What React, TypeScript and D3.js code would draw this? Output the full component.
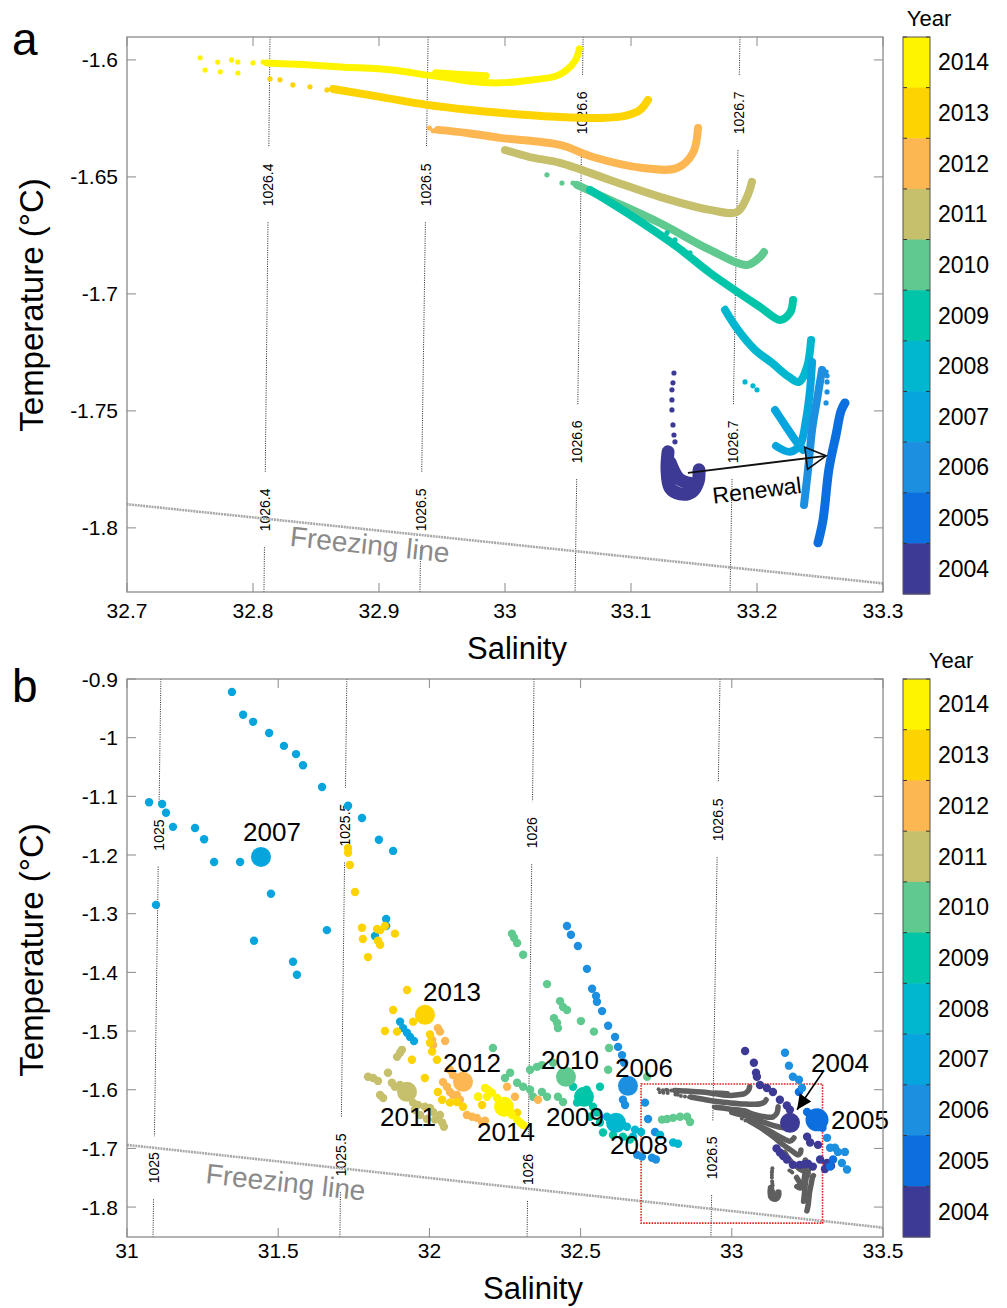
import React from 'react';
import * as d3 from 'd3';

type P = [number, number];

const FONT = '"Liberation Sans", Arial, Helvetica, sans-serif';

const years = [2004, 2005, 2006, 2007, 2008, 2009, 2010, 2011, 2012, 2013, 2014];
const yearColors = ['#3d3a95', '#0b6fe0', '#1d8fe1', '#07a5dd', '#00b7cf', '#00c5a9', '#5fc98f', '#c6bf6c', '#fdb752', '#fdd302', '#fff400'];

// axes ticks
const salTicksA = [32.7, 32.8, 32.9, 33, 33.1, 33.2, 33.3];
const tempTicksA = [-1.6, -1.65, -1.7, -1.75, -1.8];
const salTicksB = [31, 31.5, 32, 32.5, 33, 33.5];
const tempTicksB = [-0.9, -1, -1.1, -1.2, -1.3, -1.4, -1.5, -1.6, -1.7, -1.8];

// freezing line (salinity, temperature)
const freezeSal = [31, 33.5];
const freezeTemp = [-1.694, -1.835];

// isopycnals, panel a
const isoLabelsA = ['1026.4', '1026.5', '1026.6', '1026.7'];
const isoSalTopA = [32.8135, 32.939, 33.062, 33.1865];
const isoSalBotA = [32.8087, 32.9325, 33.0556, 33.1786];
const isoLabTempUpA = [-1.6534, -1.6534, -1.6226, -1.6226];
const isoLabTempLoA = [-1.7923, -1.7923, -1.7632, -1.7632];

// isopycnals, panel b
const isoLabelsB = ['1025', '1025.5', '1026', '1026.5'];
const isoSalTopB = [31.112, 31.727, 32.346, 32.961];
const isoSalBotB = [31.086, 31.704, 32.323, 32.931];
const isoLabTempUpB = [-1.166, -1.149, -1.162, -1.14];
const isoLabTempLoB = [-1.733, -1.711, -1.736, -1.716];

// panel a profiles: dense bands and loose points [S, T]
const a2014Band: P[] = [[32.811, -1.6013], [32.84, -1.602], [32.87, -1.603], [32.911, -1.6043], [32.938, -1.6065], [32.956, -1.6077], [32.97, -1.609], [32.996, -1.6098], [33.022, -1.6085], [33.04, -1.607], [33.049, -1.6043], [33.056, -1.6], [33.059, -1.5952]];
const a2014Band2: P[] = [[32.945, -1.6055], [32.965, -1.6062], [32.985, -1.6068]];
const a2014Dots: P[] = [[32.758, -1.5991], [32.762, -1.6043], [32.772, -1.6009], [32.774, -1.6051], [32.783, -1.6], [32.788, -1.6009], [32.788, -1.6056], [32.8, -1.6013], [32.808, -1.6009]];
const a2013Band: P[] = [[32.8635, -1.6124], [32.9008, -1.6158], [32.9381, -1.6192], [32.9722, -1.6214], [32.996, -1.6226], [33.0437, -1.6244], [33.0754, -1.6248], [33.0952, -1.6239], [33.1071, -1.6214], [33.1135, -1.6171]];
const a2013Dots: P[] = [[32.8135, -1.6081], [32.8214, -1.6085], [32.8317, -1.6107], [32.8452, -1.6115], [32.8587, -1.6128]];
const a2012Band: P[] = [[32.9468, -1.6299], [32.9698, -1.6312], [32.996, -1.6333], [33.0437, -1.6363], [33.0698, -1.6415], [33.1095, -1.6462], [33.1365, -1.6462], [33.1492, -1.6397], [33.1532, -1.6291]];
const a2012Dots: P[] = [[32.94, -1.6291], [32.943, -1.6303]];
const a2011Band: P[] = [[33.0, -1.6385], [33.0198, -1.6415], [33.0437, -1.644], [33.0833, -1.6513], [33.123, -1.6585], [33.1627, -1.6641], [33.1841, -1.665], [33.1921, -1.6585], [33.196, -1.6521]];
const a2010Band: P[] = [[33.0571, -1.6534], [33.0833, -1.6598], [33.123, -1.6697], [33.1627, -1.6812], [33.1921, -1.6876], [33.2024, -1.6842], [33.2056, -1.6821]];
const a2010Dots: P[] = [[33.0333, -1.6491], [33.0452, -1.6526], [33.054, -1.6526]];
const a2009Band: P[] = [[33.0675, -1.6556], [33.0968, -1.6654], [33.1365, -1.6799], [33.1627, -1.691], [33.2024, -1.7056], [33.2183, -1.7111], [33.2262, -1.7081], [33.2286, -1.7026]];
const a2009Dots: P[] = [[33.1286, -1.6739], [33.1349, -1.6769], [33.1413, -1.6812], [33.1468, -1.6825]];
const a2008Band: P[] = [[33.1746, -1.7068], [33.1849, -1.7154], [33.1984, -1.7239], [33.2119, -1.7295], [33.2254, -1.7355], [33.2333, -1.7376], [33.2397, -1.7312], [33.2429, -1.7197]];
const a2008Dots: P[] = [[33.1905, -1.7376], [33.1968, -1.7393], [33.2, -1.741]];
const a2007Band: P[] = [[33.2143, -1.7496], [33.2222, -1.756], [33.2302, -1.7624], [33.2365, -1.7667]];
const a2007Band2: P[] = [[33.2151, -1.765], [33.2262, -1.7675], [33.2341, -1.7645], [33.2389, -1.7538], [33.2421, -1.741], [33.2437, -1.7291]];
const a2006Band: P[] = [[33.2373, -1.7902], [33.2405, -1.7752], [33.2437, -1.7581], [33.2476, -1.7453], [33.2516, -1.7325]];
const a2006Dots: P[] = [[33.2548, -1.7333], [33.2556, -1.7376], [33.2556, -1.7419], [33.2548, -1.7466], [33.2556, -1.735]];
const a2005Band: P[] = [[33.2484, -1.8064], [33.2524, -1.7966], [33.2571, -1.7748], [33.2627, -1.7603], [33.2667, -1.75], [33.2698, -1.7466]];
const a2004Band: P[] = [[33.1294, -1.7675], [33.1286, -1.7752], [33.131, -1.7829], [33.1389, -1.7855], [33.1484, -1.7846], [33.1532, -1.7803], [33.154, -1.7752]];
const a2004Core: P[] = [[33.131, -1.772], [33.138, -1.779], [33.147, -1.781]];
const a2004Dots: P[] = [[33.1341, -1.7338], [33.1333, -1.738], [33.1325, -1.741], [33.1325, -1.7453], [33.1325, -1.7496], [33.1333, -1.756], [33.1341, -1.7603], [33.1349, -1.7632]];

const profilesA = [
  { year: 2014, bands: [a2014Band, a2014Band2], dots: a2014Dots },
  { year: 2013, bands: [a2013Band], dots: a2013Dots },
  { year: 2012, bands: [a2012Band], dots: a2012Dots },
  { year: 2011, bands: [a2011Band], dots: [] as P[] },
  { year: 2010, bands: [a2010Band], dots: a2010Dots },
  { year: 2009, bands: [a2009Band], dots: a2009Dots },
  { year: 2008, bands: [a2008Band], dots: a2008Dots },
  { year: 2007, bands: [a2007Band, a2007Band2], dots: [] as P[] },
  { year: 2006, bands: [a2006Band], dots: a2006Dots },
  { year: 2005, bands: [a2005Band], dots: [] as P[] },
  { year: 2004, bands: [a2004Band, a2004Core], dots: a2004Dots },
];
const bandWidth: Record<number, number> = { 2014: 7, 2005: 9, 2004: 13 };

// renewal arrow
const renewalSal = [33.1452, 33.2548];
const renewalTemp = [-1.7765, -1.7692];

// panel b: yearly points [S, T]
const b2004: P[] = [[33.044, -1.534], [33.073, -1.554], [33.08, -1.571], [33.083, -1.578], [33.093, -1.592], [33.116, -1.597], [33.136, -1.604], [33.159, -1.617], [33.182, -1.627], [33.192, -1.634], [33.249, -1.68], [33.259, -1.69], [33.285, -1.694], [33.315, -1.725], [33.328, -1.73], [33.308, -1.735], [33.292, -1.719], [33.159, -1.707], [33.17, -1.713], [33.182, -1.719], [33.202, -1.728], [33.225, -1.728], [33.252, -1.726], [33.268, -1.731], [33.148, -1.7], [33.24, -1.727]];
const b2005: P[] = [[33.249, -1.638], [33.259, -1.643], [33.3, -1.665], [33.335, -1.719], [33.325, -1.731], [33.222, -1.604]];
const b2006: P[] = [[32.455, -1.321], [32.468, -1.336], [32.491, -1.355], [32.521, -1.394], [32.538, -1.428], [32.551, -1.44], [32.554, -1.45], [32.571, -1.466], [32.591, -1.491], [32.614, -1.51], [32.624, -1.527], [32.637, -1.541], [32.644, -1.554], [32.64, -1.617], [32.647, -1.626], [32.713, -1.622], [32.723, -1.65], [32.746, -1.672], [32.736, -1.716], [32.749, -1.719], [32.687, -1.711], [32.703, -1.714], [33.176, -1.537], [33.189, -1.559], [33.202, -1.578], [33.222, -1.583], [33.232, -1.597], [33.315, -1.682], [33.325, -1.699], [33.341, -1.699], [33.351, -1.706], [33.374, -1.706], [33.381, -1.736], [33.364, -1.725]];
const b2007: P[] = [[31.347, -0.922], [31.384, -0.961], [31.417, -0.973], [31.47, -0.992], [31.519, -1.014], [31.559, -1.028], [31.582, -1.047], [31.645, -1.084], [31.731, -1.116], [31.777, -1.137], [31.833, -1.174], [31.88, -1.193], [31.073, -1.11], [31.116, -1.113], [31.129, -1.128], [31.152, -1.152], [31.225, -1.154], [31.255, -1.173], [31.288, -1.212], [31.374, -1.212], [31.476, -1.266], [31.096, -1.285], [31.42, -1.346], [31.661, -1.328], [31.857, -1.309], [31.857, -1.321], [31.82, -1.338], [31.549, -1.382], [31.562, -1.404], [31.903, -1.484], [31.913, -1.495], [31.926, -1.503], [31.936, -1.51], [31.949, -1.517]];
const b2008: P[] = [[32.587, -1.646], [32.653, -1.663], [32.673, -1.68], [32.806, -1.69], [32.822, -1.692], [32.68, -1.668], [32.763, -1.677], [32.627, -1.648], [32.7, -1.672]];
const b2009: P[] = [[32.475, -1.595], [32.488, -1.622], [32.541, -1.629], [32.554, -1.639], [32.564, -1.595], [32.531, -1.646], [32.564, -1.656], [32.574, -1.673], [32.607, -1.677], [32.64, -1.68], [32.663, -1.685], [32.52, -1.6]];
const b2010: P[] = [[32.273, -1.334], [32.28, -1.341], [32.29, -1.35], [32.31, -1.37], [32.389, -1.42], [32.432, -1.449], [32.442, -1.459], [32.455, -1.464], [32.412, -1.478], [32.422, -1.486], [32.425, -1.495], [32.501, -1.483], [32.544, -1.501], [32.594, -1.529], [32.591, -1.566], [32.72, -1.578], [32.21, -1.529], [32.267, -1.571], [32.25, -1.58], [32.29, -1.588], [32.31, -1.595], [32.333, -1.6], [32.343, -1.612], [32.372, -1.604], [32.389, -1.612], [32.333, -1.566], [32.356, -1.561], [32.372, -1.558], [32.409, -1.554], [32.425, -1.612], [32.442, -1.621], [32.769, -1.651], [32.786, -1.65], [32.806, -1.648], [32.829, -1.646], [32.852, -1.646], [32.862, -1.655]];
const b2011: P[] = [[31.797, -1.578], [31.814, -1.58], [31.83, -1.585], [31.863, -1.571], [31.876, -1.588], [31.886, -1.595], [31.903, -1.592], [31.837, -1.609], [31.847, -1.614], [31.893, -1.544], [31.903, -1.537], [31.909, -1.532], [31.946, -1.622], [31.962, -1.626], [31.985, -1.629], [32.002, -1.631], [32.012, -1.638], [31.952, -1.634], [31.969, -1.643], [31.992, -1.65], [32.019, -1.651], [32.042, -1.656], [32.048, -1.663], [32.035, -1.643]];
const b2012: P[] = [[32.028, -1.495], [32.035, -1.501], [32.052, -1.517], [32.009, -1.515], [32.012, -1.524], [32.068, -1.566], [32.078, -1.575], [32.045, -1.587], [32.058, -1.595], [32.068, -1.604], [32.078, -1.609], [32.091, -1.609], [32.101, -1.617], [32.124, -1.643], [32.141, -1.646], [32.157, -1.648], [32.174, -1.655], [32.184, -1.653], [32.257, -1.595], [32.283, -1.612], [32.359, -1.617], [32.243, -1.622]];
const b2013: P[] = [[31.731, -1.188], [31.731, -1.196], [31.737, -1.217], [31.754, -1.263], [31.777, -1.324], [31.78, -1.343], [31.797, -1.374], [31.827, -1.326], [31.837, -1.328], [31.853, -1.321], [31.886, -1.334], [31.83, -1.346], [31.837, -1.353], [31.926, -1.43], [31.88, -1.464], [31.853, -1.5], [31.946, -1.484], [31.893, -1.501], [32.002, -1.506], [32.002, -1.52], [32.009, -1.535], [32.025, -1.549], [31.942, -1.549], [31.985, -1.58], [32.028, -1.604], [32.042, -1.617], [32.068, -1.622], [32.091, -1.621], [32.111, -1.629], [32.161, -1.612], [32.174, -1.626], [32.233, -1.626], [32.29, -1.639]];
const b2014: P[] = [[32.184, -1.597], [32.194, -1.6], [32.207, -1.605], [32.224, -1.614], [32.273, -1.643], [32.29, -1.651], [32.3, -1.656], [32.31, -1.66], [32.161, -1.612], [32.19, -1.612]];
const pointsB = [b2004, b2005, b2006, b2007, b2008, b2009, b2010, b2011, b2012, b2013, b2014];

// yearly means, panel b
const meanSal = [33.1925, 33.2817, 32.6567, 31.4431, 32.6171, 32.5112, 32.4517, 31.9259, 32.1111, 31.9854, 32.2467];
const meanTemp = [-1.6564, -1.6513, -1.5934, -1.2032, -1.6564, -1.6121, -1.578, -1.6036, -1.5865, -1.4724, -1.6291];
// label placement (px offset from mean marker)
const labelOffset: P[] = [[50, -60], [43, 0], [16, -18], [11, -25], [23, 22], [-9, 20], [4, -17], [1, 25], [9, -19], [27, -23], [2, 25]];

const fmt = (v: number) => String(Math.round(v * 100) / 100);

function arrowHead(x1: number, y1: number, x2: number, y2: number, len: number, half: number) {
  const a = Math.atan2(y2 - y1, x2 - x1);
  const bx = x2 - len * Math.cos(a), by = y2 - len * Math.sin(a);
  const px = -Math.sin(a) * half, py = Math.cos(a) * half;
  return `M${x2},${y2}L${bx + px},${by + py}L${bx - px},${by - py}Z`;
}

function Axes({ x, y, sTicks, tTicks, xLabelY, tl }: any) {
  const [x0, x1] = x.range();
  const [yb, yt] = y.range();
  return (
    <g>
      <rect x={x0} y={yt} width={x1 - x0} height={yb - yt} fill="none" stroke="#8a8a8a" strokeWidth={1.3} />
      {sTicks.map((v: number) => (
        <g key={'s' + v}>
          <line x1={x(v)} x2={x(v)} y1={yb} y2={yb - tl} stroke="#8a8a8a" />
          <line x1={x(v)} x2={x(v)} y1={yt} y2={yt + tl} stroke="#8a8a8a" />
          <text x={x(v)} y={xLabelY} textAnchor="middle" fontSize={21}>{fmt(v)}</text>
        </g>
      ))}
      {tTicks.map((v: number) => (
        <g key={'t' + v}>
          <line x1={x0} x2={x0 + tl} y1={y(v)} y2={y(v)} stroke="#8a8a8a" />
          <line x1={x1} x2={x1 - tl} y1={y(v)} y2={y(v)} stroke="#8a8a8a" />
          <text x={x0 - 9} y={y(v)} textAnchor="end" dominantBaseline="central" fontSize={21}>{fmt(v)}</text>
        </g>
      ))}
    </g>
  );
}

function Isopycnals({ x, y, labels, sTop, sBot, tUp, tLo }: any) {
  const [yb, yt] = y.range();
  return (
    <g>
      {labels.map((lab: string, i: number) => {
        const xt = x(sTop[i]), xb = x(sBot[i]);
        const xAt = (py: number) => xt + (xb - xt) * (py - yt) / (yb - yt);
        const dots = lab.split('.').length - 1;
        const w = 14 * ((lab.length - dots) * 0.556 + dots * 0.278);
        const half = w / 2 + 16;
        const c1 = y(tUp[i]), c2 = y(tLo[i]);
        const segs = [[yt, c1 - half], [c1 + half, c2 - half], [c2 + half, yb]];
        return (
          <g key={lab}>
            {segs.map((s, j) => (
              <line key={j} x1={xAt(s[0])} y1={s[0]} x2={xAt(s[1])} y2={s[1]} stroke="#222" strokeWidth={1} strokeDasharray="1 1.3" />
            ))}
            {[c1, c2].map((c, j) => (
              <text key={j} transform={`translate(${xAt(c)},${c}) rotate(-90)`} textAnchor="middle" dominantBaseline="central" fontSize={14}>{lab}</text>
            ))}
          </g>
        );
      })}
    </g>
  );
}

function Freezing({ x, y, sAt, offset }: any) {
  const p0: P = [x(freezeSal[0]), y(freezeTemp[0])];
  const p1: P = [x(freezeSal[1]), y(freezeTemp[1])];
  const ang = Math.atan2(p1[1] - p0[1], p1[0] - p0[0]);
  const tAt = freezeTemp[0] + (freezeTemp[1] - freezeTemp[0]) * (sAt - freezeSal[0]) / (freezeSal[1] - freezeSal[0]);
  const cx = x(sAt) - Math.sin(ang) * offset, cy = y(tAt) + Math.cos(ang) * offset;
  return (
    <g>
      <line x1={p0[0]} y1={p0[1]} x2={p1[0]} y2={p1[1]} stroke="#a8a8a8" strokeWidth={2.6} strokeDasharray="2 0.8" />
      <text transform={`translate(${cx},${cy}) rotate(${(ang * 180) / Math.PI})`} textAnchor="middle" dominantBaseline="central" fontSize={28} fill="#8a8a8a">Freezing line</text>
    </g>
  );
}

function ColorBar({ top, bottom, yearX }: any) {
  const band = d3.scaleBand<number>().domain(years.slice().reverse()).range([top, bottom]);
  const color = d3.scaleOrdinal<number, string>().domain(years).range(yearColors);
  const x0 = 903, w = 27;
  return (
    <g>
      <text x={yearX} y={top - 11} textAnchor="middle" fontSize={22}>Year</text>
      {band.domain().map((yr) => (
        <g key={yr}>
          <rect x={x0} y={band(yr)} width={w} height={band.bandwidth() + 0.5} fill={color(yr)} />
          <line x1={x0} x2={x0 + 4} y1={band(yr)} y2={band(yr)} stroke="#333" />
          <line x1={x0 + w - 4} x2={x0 + w} y1={band(yr)} y2={band(yr)} stroke="#333" />
          <text x={x0 + w + 8} y={(band(yr) as number) + band.bandwidth() / 2} dominantBaseline="central" fontSize={23}>{yr}</text>
        </g>
      ))}
      <rect x={x0} y={top} width={w} height={bottom - top} fill="none" stroke="#555" strokeWidth={1} />
    </g>
  );
}

export default function App() {
  const xA = d3.scaleLinear().domain([32.7, 33.3]).range([127, 883]);
  const yA = d3.scaleLinear().domain([-1.8274, -1.5902]).range([592, 37]);
  const xB = d3.scaleLinear().domain([31, 33.5]).range([127, 883]);
  const yB = d3.scaleLinear().domain([-1.851, -0.9]).range([1237, 679]);
  const color = d3.scaleOrdinal<number, string>().domain(years).range(yearColors);

  const lineA = d3.line<P>().x((d) => xA(d[0])).y((d) => yA(d[1])).curve(d3.curveCatmullRom.alpha(0.5));
  const lineB = d3.line<P>().x((d) => xB(d[0])).y((d) => yB(d[1])).curve(d3.curveCatmullRom.alpha(0.5));

  const r0: P = [xA(renewalSal[0]), yA(renewalTemp[0])];
  const r1: P = [xA(renewalSal[1]), yA(renewalTemp[1])];
  const rAng = (Math.atan2(r1[1] - r0[1], r1[0] - r0[0]) * 180) / Math.PI;

  const [sa0, sa1] = xA.domain();
  const [ta0, ta1] = yA.domain();

  const m04: P = [xB(meanSal[0]), yB(meanTemp[0])];
  const l04: P = [m04[0] + labelOffset[0][0], m04[1] + labelOffset[0][1]];
  const a04s: P = [l04[0] - 17, l04[1] + 9];
  const a04e: P = [m04[0] + 7, m04[1] - 13];

  return (
    <svg width={1007} height={1308} style={{ position: 'absolute', left: 0, top: 0, background: '#fff' }} fontFamily={FONT}>
      <defs>
        <clipPath id="clipA"><rect x={127} y={37} width={756} height={555} /></clipPath>
        <clipPath id="clipB"><rect x={127} y={679} width={756} height={558} /></clipPath>
      </defs>
      <rect width={1007} height={1308} fill="#fff" />

      {/* panel a */}
      <text x={12} y={55} fontSize={46}>a</text>
      <g clipPath="url(#clipA)">
        <Isopycnals x={xA} y={yA} labels={isoLabelsA} sTop={isoSalTopA} sBot={isoSalBotA} tUp={isoLabTempUpA} tLo={isoLabTempLoA} />
        <Freezing x={xA} y={yA} sAt={32.894} offset={15} />
        {profilesA.map((p) => (
          <g key={p.year}>
            {p.bands.map((b, i) => (
              <path key={i} d={lineA(b) as string} fill="none" stroke={color(p.year)} strokeWidth={bandWidth[p.year] ?? 8} strokeLinecap="round" strokeLinejoin="round" />
            ))}
            {p.dots.map((d, i) => (
              <circle key={i} cx={xA(d[0])} cy={yA(d[1])} r={2.6} fill={color(p.year)} />
            ))}
          </g>
        ))}
        <line x1={r0[0]} y1={r0[1]} x2={r1[0]} y2={r1[1]} stroke="#111" strokeWidth={1.8} />
        <path d={arrowHead(r0[0], r0[1], r1[0], r1[1], 20, 11)} fill="none" stroke="#111" strokeWidth={1.6} />
        <text transform={`translate(${(r0[0] + r1[0]) / 2},${(r0[1] + r1[1]) / 2 + 26}) rotate(${rAng})`} textAnchor="middle" dominantBaseline="central" fontSize={23}>Renewal</text>
      </g>
      <Axes x={xA} y={yA} sTicks={salTicksA} tTicks={tempTicksA} xLabelY={618} tl={9} />
      <text x={517} y={659} textAnchor="middle" fontSize={31}>Salinity</text>
      <text transform="translate(43,305) rotate(-90)" textAnchor="middle" fontSize={33}>Temperature (°C)</text>
      <ColorBar top={37} bottom={594} yearX={929} />

      {/* panel b */}
      <text x={12} y={702} fontSize={46}>b</text>
      <g clipPath="url(#clipB)">
        <Isopycnals x={xB} y={yB} labels={isoLabelsB} sTop={isoSalTopB} sBot={isoSalBotB} tUp={isoLabTempUpB} tLo={isoLabTempLoB} />
        <Freezing x={xB} y={yB} sAt={31.532} offset={20} />
        {profilesA.map((p) => (
          <g key={p.year}>
            {p.bands.map((b, i) => (
              <path key={i} d={lineB(b) as string} fill="none" stroke="#5f5f5f" strokeWidth={p.year === 2004 ? 6.5 : 5.5} strokeLinecap="round" strokeLinejoin="round" />
            ))}
            {p.dots.map((d, i) => (
              <circle key={i} cx={xB(d[0])} cy={yB(d[1])} r={2} fill="#5f5f5f" />
            ))}
          </g>
        ))}
        <rect x={xB(sa0)} y={yB(ta1)} width={xB(sa1) - xB(sa0)} height={yB(ta0) - yB(ta1)} fill="none" stroke="#e3221e" strokeWidth={1.6} strokeDasharray="1.6 1.2" />
        {pointsB.map((pts, yi) => (
          <g key={years[yi]}>
            {pts.map((d, i) => (
              <circle key={i} cx={xB(d[0])} cy={yB(d[1])} r={4.2} fill={yearColors[yi]} />
            ))}
          </g>
        ))}
        {years.map((yr, i) => (
          <circle key={yr} cx={xB(meanSal[i])} cy={yB(meanTemp[i])} r={yr === 2005 ? 11.5 : 10} fill={yearColors[i]} />
        ))}
      </g>
      {years.map((yr, i) => (
        <text key={yr} x={xB(meanSal[i]) + labelOffset[i][0]} y={yB(meanTemp[i]) + labelOffset[i][1]} textAnchor="middle" dominantBaseline="central" fontSize={26}>{yr}</text>
      ))}
      <line x1={a04s[0]} y1={a04s[1]} x2={a04e[0]} y2={a04e[1]} stroke="#000" strokeWidth={1.6} />
      <path d={arrowHead(a04s[0], a04s[1], a04e[0], a04e[1], 15, 7)} fill="#000" />
      <Axes x={xB} y={yB} sTicks={salTicksB} tTicks={tempTicksB} xLabelY={1258} tl={9} />
      <text x={533} y={1299} textAnchor="middle" fontSize={31}>Salinity</text>
      <text transform="translate(43,950) rotate(-90)" textAnchor="middle" fontSize={33}>Temperature (°C)</text>
      <ColorBar top={679} bottom={1237} yearX={951} />
    </svg>
  );
}
